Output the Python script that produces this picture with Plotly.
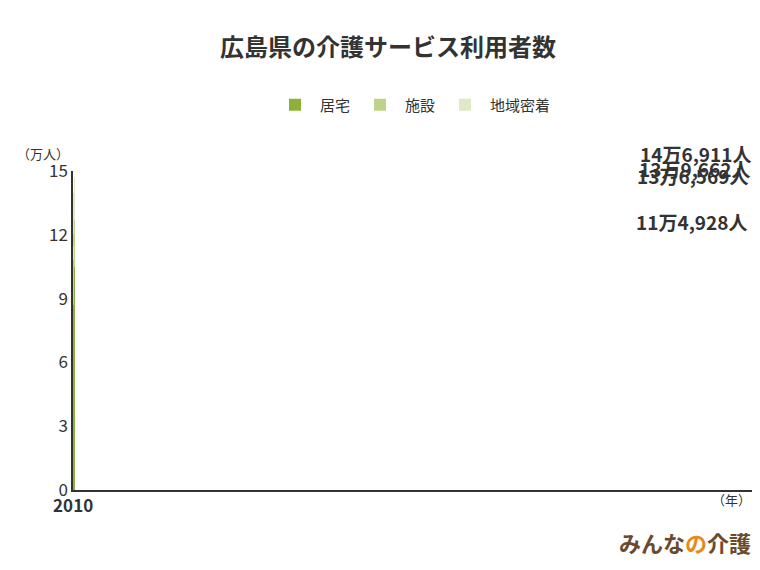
import plotly.graph_objects as go

years = ["2010", "2015", "2020", "2024"]
kyotaku = [8.7, 10.4, 9.9, 10.5]
shisetsu = [2.1, 2.2, 2.15, 2.2]
chiiki = [0.69, 1.06, 1.92, 1.99]
total_labels = ["11万4,928人", "13万6,569人", "13万9,662人", "14万6,911人"]

font = "Noto Sans CJK JP"
fig = go.Figure()
for name, vals, color in [("居宅", kyotaku, "#8db03a"),
                          ("施設", shisetsu, "#bdd38b"),
                          ("地域密着", chiiki, "#dfe9c8")]:
    fig.add_trace(go.Bar(x=years, y=vals, name=name, marker_color=color,
                         marker_line_width=0, width=0.36))

totals = [a + b + c for a, b, c in zip(kyotaku, shisetsu, chiiki)]
for x, t, lab in zip(years, totals, total_labels):
    fig.add_annotation(x=x, y=t, text="<b>" + lab + "</b>", showarrow=False, yshift=24,
                       font=dict(size=19, color="#333", family=font))

fig.add_annotation(xref="paper", yref="paper", x=-0.085, y=1.09, text="（万人）",
                   showarrow=False, xanchor="left", font=dict(size=13, color="#333"))
fig.add_annotation(xref="paper", yref="paper", x=1.0, y=-0.065, text="（年）",
                   showarrow=False, xanchor="right", font=dict(size=13, color="#333"))
fig.add_annotation(xref="paper", yref="paper", x=1.0, y=-0.22,
                   text="<b>みんな<span style='color:#e8891c'>の</span>介護</b>",
                   showarrow=False, xanchor="right",
                   font=dict(size=22, color="#6b4a2b", family=font))

fig.update_layout(
    width=760, height=570, barmode="stack",
    paper_bgcolor="white", plot_bgcolor="white",
    font=dict(family=font, color="#333"),
    title=dict(text="<b>広島県の介護サービス利用者数</b>", x=0.5, y=0.93,
               xanchor="center", yanchor="middle", font=dict(size=24, color="#333")),
    legend=dict(orientation="h", x=0.5, xanchor="center", y=1.207, yanchor="middle",
                font=dict(size=15), traceorder="normal", itemwidth=40),
    margin=dict(l=65, r=15, t=163, b=88),
    showlegend=True,
)
fig.update_xaxes(type="category", showline=True, linecolor="#333", linewidth=1.5,
                 ticks="", tickfont=dict(size=17, color="#333"),
                 tickprefix="<b>", ticksuffix="</b>")
fig.update_yaxes(range=[0, 15], tickvals=[0, 3, 6, 9, 12, 15], showgrid=False,
                 showline=True, linecolor="#333", linewidth=1.5, zeroline=False,
                 tickfont=dict(size=17, color="#333"),
                 tickprefix="<b>", ticksuffix="</b>")

fig.write_html("out.html")
